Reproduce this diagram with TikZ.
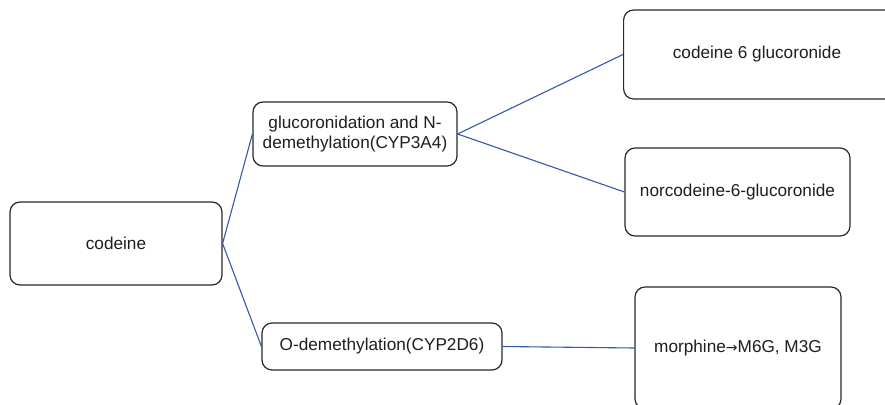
\documentclass[tikz,border=0pt]{standalone}
\usepackage{fontspec}
\setmainfont{Liberation Sans}
\newfontfamily\arrowfont{DejaVu Sans}
\definecolor{edgeblue}{RGB}{52,88,170}
\definecolor{boxgray}{RGB}{40,40,40}
\definecolor{txtgray}{RGB}{30,30,30}
\begin{document}
\begin{tikzpicture}[x=1pt,y=-1pt,
  txt/.style={text=txtgray, font=\fontsize{17.2}{20}\selectfont, align=center, inner sep=0pt},
  box/.style={txt, draw=boxgray, line width=1.2pt, rounded corners=10pt},
  link/.style={draw=edgeblue, line width=1.1pt}]
\useasboundingbox (0,0) rectangle (885,404);
\clip (0,0) rectangle (885,404);
\node[box, minimum width=212pt, minimum height=83pt] (cod) at (116,243.5) {codeine};
\node[box, minimum width=204pt, minimum height=64pt] (glu) at (355,134) {glucoronidation and N-\\demethylation(CYP3A4)};
\node[box, minimum width=240pt, minimum height=47pt] (ode) at (382,346.5) {O-demethylation(CYP2D6)};
\node[box, minimum width=300pt, minimum height=89pt, anchor=west] (c6g) at (623,54.5) {};
\node[txt] (c6gt) at (757,54.5) {codeine 6 glucoronide};
\node[box, minimum width=225pt, minimum height=88pt] (nor) at (737.5,192) {norcodeine-6-glucoronide};
\node[box, minimum width=206pt, minimum height=122pt] (mor) at (738,348) {morphine{\arrowfont\fontsize{14}{20}\selectfont →}M6G, M3G};
\draw[link] (cod.east) -- (glu.west);
\draw[link] (cod.east) -- (ode.west);
\draw[link] (glu.east) -- (c6g.west);
\draw[link] (glu.east) -- (nor.west);
\draw[link] (ode.east) -- (mor.west);
\end{tikzpicture}
\end{document}
